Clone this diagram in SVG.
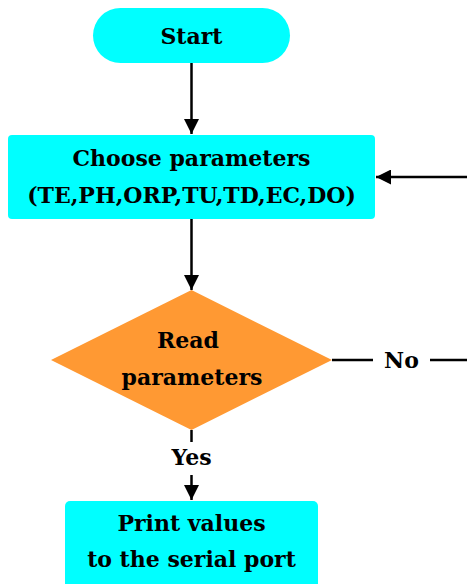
<svg xmlns="http://www.w3.org/2000/svg" width="467" height="584" viewBox="0 0 467 584">
<defs>
<style>
.t{font-family:"DejaVu Serif","Liberation Serif",serif;font-weight:bold;font-size:22px;fill:#000;text-anchor:middle}
.c{stroke:#000;stroke-width:2.5;fill:none}
.box{fill:#00ffff}
</style>
<marker id="ah" viewBox="0 0 10 10" refX="10" refY="5" markerWidth="6" markerHeight="6" markerUnits="strokeWidth" orient="auto"><path d="M0,0 L10,5 L0,10 z" fill="#000"/></marker>
</defs>
<rect width="467" height="584" fill="#fff"/>
<g id="connectors">
<line class="c" x1="191.5" y1="63" x2="191.5" y2="134" marker-end="url(#ah)"/>
<line class="c" x1="467" y1="177" x2="376" y2="177" marker-end="url(#ah)"/>
<line class="c" x1="191.5" y1="219" x2="191.5" y2="290" marker-end="url(#ah)"/>
<line class="c" x1="332" y1="360" x2="373" y2="360"/>
<line class="c" x1="430" y1="360" x2="467" y2="360"/>
<line class="c" x1="191.5" y1="430" x2="191.5" y2="442"/>
<line class="c" x1="191.5" y1="475" x2="191.5" y2="500" marker-end="url(#ah)"/>
<text class="t" x="401.5" y="368">No</text>
<text class="t" x="191.5" y="465">Yes</text>
</g>
<g id="start">
<rect class="box" x="93" y="8" width="197" height="55" rx="27.5"/>
<text class="t" x="191.5" y="44">Start</text>
</g>
<g id="choose">
<rect class="box" x="8" y="135" width="367" height="84" rx="4"/>
<text class="t" x="191.5" y="166">Choose parameters</text>
<text class="t" x="191.5" y="203">(TE,PH,ORP,TU,TD,EC,DO)</text>
</g>
<g id="read">
<polygon points="191.5,290 332,360 191.5,430 51,360" fill="#ff9933"/>
<text class="t" x="188" y="348">Read</text>
<text class="t" x="192" y="385">parameters</text>
</g>
<g id="print">
<rect class="box" x="65" y="501" width="253" height="90" rx="5"/>
<text class="t" x="191.5" y="531">Print values</text>
<text class="t" x="191.5" y="567">to the serial port</text>
</g>
</svg>
